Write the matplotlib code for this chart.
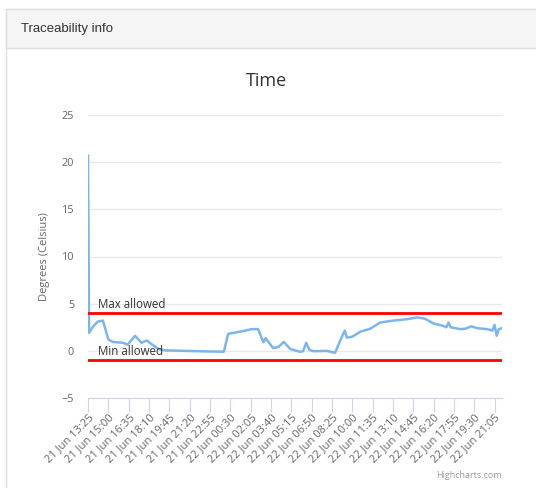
import matplotlib
matplotlib.use("Agg")
import matplotlib.pyplot as plt
from matplotlib.patches import Rectangle

# minutes after 21 Jun 13:25, temperature readings (deg C)
minutes = [0, 5, 25, 45, 70, 95, 115, 165, 185, 220, 250, 275, 300, 330, 360,
           445, 635, 655, 680, 725, 765, 795, 820, 830, 865, 890, 915, 945,
           990, 1005, 1020, 1035, 1055, 1115, 1155, 1180, 1200, 1210, 1235,
           1275, 1320, 1365, 1425, 1490, 1540, 1575, 1615, 1660, 1675, 1685,
           1695, 1740, 1765, 1790, 1820, 1865, 1890, 1900, 1910, 1920, 1935]
temps = [20.7, 1.9, 2.6, 3.1, 3.2, 1.2, 0.95, 0.85, 0.65, 1.6, 0.85, 1.1,
         0.65, 0.2, 0.05, 0.0, -0.1, 1.8, 1.9, 2.1, 2.3, 2.3, 0.9, 1.35,
         0.3, 0.4, 0.95, 0.2, -0.1, -0.05, 0.85, 0.1, -0.05, 0.0, -0.2,
         1.15, 2.15, 1.4, 1.5, 2.05, 2.35, 3.0, 3.2, 3.35, 3.55, 3.4, 2.9,
         2.65, 2.5, 3.0, 2.5, 2.3, 2.35, 2.6, 2.4, 2.3, 2.15, 2.75, 1.6,
         2.3, 2.4]

tick_labels = ["21 Jun 13:25", "21 Jun 15:00", "21 Jun 16:35", "21 Jun 18:10",
               "21 Jun 19:45", "21 Jun 21:20", "21 Jun 22:55", "22 Jun 00:30",
               "22 Jun 02:05", "22 Jun 03:40", "22 Jun 05:15", "22 Jun 06:50",
               "22 Jun 08:25", "22 Jun 10:00", "22 Jun 11:35", "22 Jun 13:10",
               "22 Jun 14:45", "22 Jun 16:20", "22 Jun 17:55", "22 Jun 19:30",
               "22 Jun 21:05"]
tick_step = 95
max_allowed = 4
min_allowed = -1

plt.rcParams['font.family'] = ['Open Sans', 'DejaVu Sans']

W, H = 536, 488
fig = plt.figure(figsize=(W / 100, H / 100), dpi=100)
fig.patch.set_facecolor('white')

# panel frame and header
bg = fig.add_axes([0, 0, 1, 1])
bg.set_xlim(0, W)
bg.set_ylim(H, 0)
bg.axis('off')
bg.add_patch(Rectangle((6, 9), W, H, facecolor='white', edgecolor='#dddddd', lw=1))
bg.add_patch(Rectangle((6, 9), W, 39, facecolor='#f5f5f5', edgecolor='#dddddd', lw=1))
bg.text(21, 29, "Traceability info", fontsize=9.5, color='#333333',
        family=['Liberation Sans', 'DejaVu Sans'], va='center', ha='left')
bg.text(266, 81, "Time", fontsize=13, color='#333333', ha='center', va='center')
bg.text(502, 475, "Highcharts.com", fontsize=6.5, color='#999999', ha='right', va='center')

ax = fig.add_axes([88 / W, 1 - 398 / H, 414 / W, 283 / H])
ax.plot(minutes, temps, color='#7cb5ec', lw=1.8, zorder=3)
ax.axhline(max_allowed, color='red', lw=2, zorder=4)
ax.axhline(min_allowed, color='red', lw=2, zorder=4)
ax.text(10 / 414 * 1935, max_allowed + 0.2, "Max allowed", fontsize=8.3, color='#333333', va='bottom', ha='left')
ax.text(10 / 414 * 1935, min_allowed + 0.2, "Min allowed", fontsize=8.3, color='#333333', va='bottom', ha='left')

ax.set_xlim(0, 1935)
ax.set_ylim(-5, 25)
ax.set_yticks(range(-5, 30, 5))
ax.set_yticklabels(["\u22125", "0", "5", "10", "15", "20", "25"])
ax.grid(axis='y', color='#e9e9e9', lw=1)
ax.set_axisbelow(True)
ax.tick_params(axis='y', length=0, labelsize=7.8, labelcolor='#666666', pad=10)
ax.set_xticks([i * tick_step for i in range(len(tick_labels))])
ax.set_xticklabels(tick_labels)
ax.tick_params(axis='x', length=10, color='#ccd6eb', labelsize=8, labelcolor='#666666',
               pad=0, labelrotation=45)
for lbl in ax.get_xticklabels():
    lbl.set_ha('right')
    lbl.set_va('top')
    lbl.set_rotation_mode('anchor')
for s in ['top', 'right', 'left']:
    ax.spines[s].set_visible(False)
ax.spines['bottom'].set_color('#ccd6eb')
ax.set_ylabel("Degrees (Celsius)", fontsize=8, color='#666666', labelpad=8)

fig.savefig("out.png", dpi=100)
